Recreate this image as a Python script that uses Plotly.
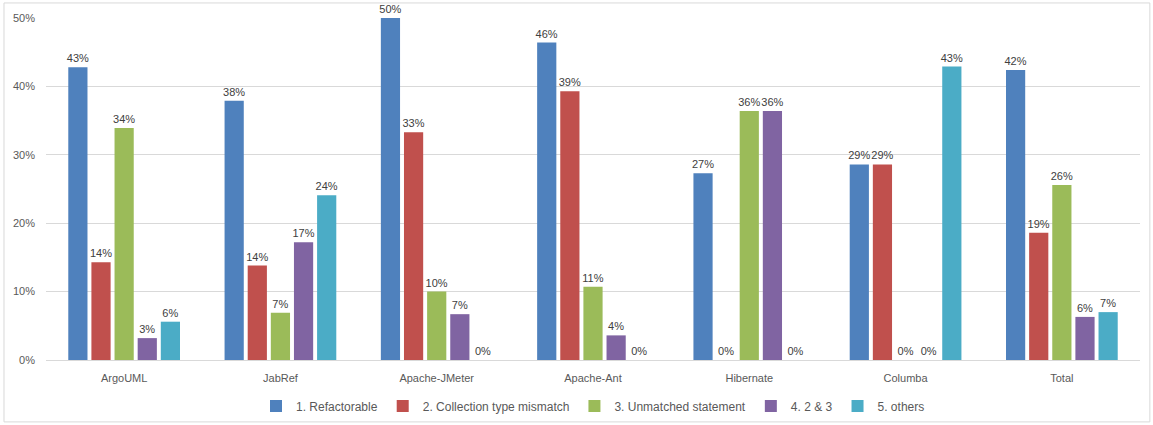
import plotly.graph_objects as go

categories = ["ArgoUML", "JabRef", "Apache-JMeter", "Apache-Ant", "Hibernate", "Columba", "Total"]
series_names = ["1. Refactorable", "2. Collection type mismatch", "3. Unmatched statement", "4. 2 & 3", "5. others"]
refactorable = [0.428, 0.379, 0.500, 0.464, 0.273, 0.286, 0.424]
collection_mismatch = [0.143, 0.138, 0.333, 0.393, 0.0, 0.286, 0.186]
unmatched_statement = [0.339, 0.069, 0.100, 0.107, 0.364, 0.0, 0.256]
both_2_3 = [0.032, 0.172, 0.067, 0.036, 0.364, 0.0, 0.063]
others = [0.056, 0.241, 0.0, 0.0, 0.0, 0.429, 0.070]

colors = ["#4F81BD", "#C0504D", "#9BBB59", "#8064A2", "#4BACC6"]
all_series = [refactorable, collection_mismatch, unmatched_statement, both_2_3, others]

fig = go.Figure()
for name, vals, col in zip(series_names, all_series, colors):
    fig.add_trace(go.Bar(
        x=categories, y=vals, name=name,
        marker=dict(color=col, line=dict(width=0)),
        texttemplate="%{y:.0%}", textposition="outside",
        constraintext="none",
        textfont=dict(size=11, color="#404040"),
        cliponaxis=False,
    ))

font_family = "Liberation Sans, Arial, sans-serif"
fig.update_layout(
    width=1153, height=425,
    margin=dict(l=46, r=13, t=18, b=65, autoexpand=False),
    paper_bgcolor="white", plot_bgcolor="white",
    barmode="group", bargap=0.26, bargroupgap=0.17,
    font=dict(family=font_family, size=11, color="#595959"),
    showlegend=True,
    legend=dict(orientation="h", x=0.5, xanchor="center", yref="container",
                y=0.045, yanchor="middle",
                font=dict(size=12, color="#595959"), itemwidth=30, tracegroupgap=0),
    xaxis=dict(showgrid=False, showline=True, linecolor="#D9D9D9", linewidth=1,
               ticks="", ticklabelstandoff=8, tickfont=dict(size=11, color="#595959")),
    yaxis=dict(range=[0, 0.5], dtick=0.1, tickformat=".0%", showgrid=True,
               gridcolor="#D9D9D9", gridwidth=1, zeroline=False, showline=False,
               ticks="", ticklabelstandoff=10, tickfont=dict(size=11, color="#595959")),
)
fig.add_shape(type="rect", xref="paper", yref="paper",
              x0=-0.0384, x1=1.009, y0=-0.181, y1=1.044,
              line=dict(color="#D9D9D9", width=1), fillcolor="rgba(0,0,0,0)")

fig.write_html("out.html", config={"displayModeBar": False},
               post_script="document.body.style.margin='0';document.body.style.overflow='hidden';")
